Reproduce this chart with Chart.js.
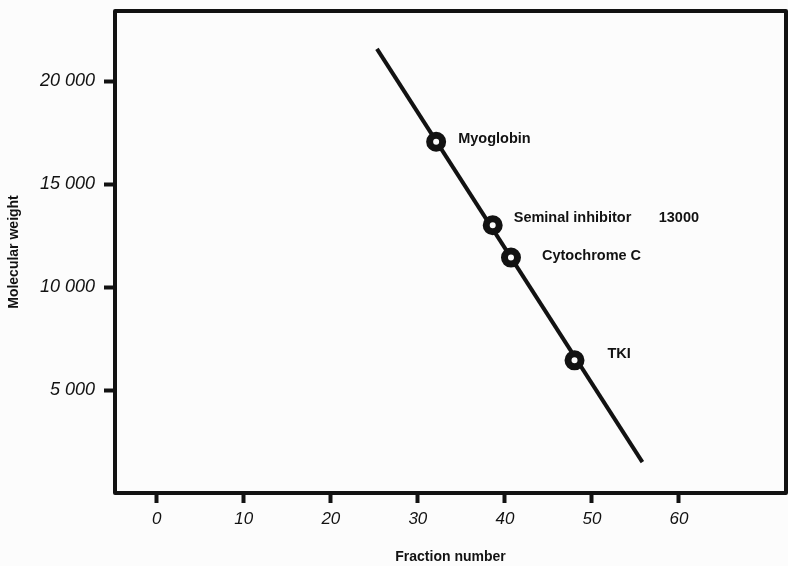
<!DOCTYPE html>
<html lang="en">
<head>
  <meta charset="UTF-8" />
  <title>Molecular weight vs fraction number</title>
  <script src="https://cdn.jsdelivr.net/npm/chart.js"></script>
  <style>
    html, body { margin: 0; padding: 0; background: #fcfcfc; }
    canvas { display: block; }
  </style>
</head>
<body>
  <canvas id="mwChart" width="788" height="566"></canvas>

  <script>
    // calibration proteins: elution fraction and molecular weight
    const proteins = ['Myoglobin', 'Seminal inhibitor', 'Cytochrome C', 'TKI'];
    const fractions = [32.1, 38.6, 40.7, 48.0];
    const weights = [17050, 13000, 11430, 6440];

    // fitted calibration line, end points
    const lineFractions = [25.3, 55.8];
    const lineWeights = [21560, 1500];

    const xTicks = [0, 10, 20, 30, 40, 50, 60];
    const yTicks = [5000, 10000, 15000, 20000];

    // which protein also gets its weight written next to the name
    const showWeight = [false, true, false, false];

    const ink = '#121212';
    const sans = '"Liberation Sans", Arial, sans-serif';

    // text placement next to each circle
    const labelDx = [22, 21, 31, 33];
    const labelDy = [-3, -7, -2, -6];

    const frameAndLabels = {
      id: 'frameAndLabels',
      afterDatasetsDraw(chart) {
        const { ctx, chartArea: a } = chart;
        ctx.save();
        ctx.strokeStyle = ink;
        ctx.lineWidth = 4;
        ctx.lineJoin = 'round';
        ctx.strokeRect(a.left, a.top, a.right - a.left, a.bottom - a.top);

        const pts = chart.getDatasetMeta(1).data;
        ctx.fillStyle = ink;
        ctx.font = 'bold 14.5px ' + sans;
        ctx.textBaseline = 'middle';
        ctx.textAlign = 'left';
        pts.forEach((p, i) => {
          const tx = p.x + labelDx[i];
          const ty = p.y + labelDy[i];
          ctx.fillText(proteins[i], tx, ty);
          if (showWeight[i]) {
            ctx.fillText(String(weights[i]), tx + 145, ty);
          }
        });
        ctx.restore();
      }
    };

    const onlyTicks = (list) => (scale) => {
      scale.ticks = list.map(v => ({ value: v }));
    };

    // fixed axis box, no extra room for overhanging labels
    const fixBox = (w, h) => (s) => {
      if (w) s.width = w;
      if (h) s.height = h;
      s.paddingTop = s.paddingBottom = s.paddingLeft = s.paddingRight = 0;
    };

    new Chart(document.getElementById('mwChart'), {
      type: 'scatter',
      data: {
        datasets: [
          {
            label: 'calibration line',
            data: lineFractions.map((x, i) => ({ x: x, y: lineWeights[i] })),
            showLine: true,
            borderColor: ink,
            borderWidth: 4,
            pointRadius: 0,
            order: 2
          },
          {
            label: 'proteins',
            data: fractions.map((x, i) => ({ x: x, y: weights[i] })),
            showLine: false,
            pointRadius: 6.5,
            pointBorderWidth: 7,
            pointBackgroundColor: '#fcfcfc',
            pointBorderColor: ink,
            order: 1
          }
        ]
      },
      options: {
        responsive: false,
        animation: false,
        events: [],
        layout: { autoPadding: false, padding: { top: 11, right: 2, left: 0, bottom: 0 } },
        plugins: {
          legend: { display: false },
          tooltip: { enabled: false }
        },
        scales: {
          x: {
            type: 'linear',
            min: -4.8,
            max: 72.3,
            afterBuildTicks: onlyTicks(xTicks),
            afterFit: fixBox(0, 73),
            border: { display: false },
            grid: {
              drawOnChartArea: false,
              drawTicks: true,
              tickLength: 10,
              tickWidth: 4,
              tickColor: ink
            },
            ticks: {
              color: ink,
              padding: 6,
              maxRotation: 0,
              font: { family: sans, size: 17, style: 'italic' }
            },
            title: {
              display: true,
              text: 'Fraction number',
              color: ink,
              padding: { top: 0, bottom: 0 },
              font: { family: sans, size: 14, weight: 'bold' }
            }
          },
          y: {
            type: 'linear',
            min: 0,
            max: 23400,
            afterBuildTicks: onlyTicks(yTicks),
            afterFit: fixBox(115, 0),
            border: { display: false },
            grid: {
              drawOnChartArea: false,
              drawTicks: true,
              tickLength: 11,
              tickWidth: 4,
              tickColor: ink
            },
            ticks: {
              color: ink,
              padding: 9,
              font: { family: sans, size: 18, style: 'italic' },
              callback: (v) => {
                const s = String(v);
                return s.slice(0, s.length - 3) + ' ' + s.slice(-3);
              }
            },
            title: {
              display: true,
              text: 'Molecular weight',
              color: ink,
              padding: { top: 6, bottom: 0 },
              font: { family: sans, size: 14, weight: 'bold' }
            }
          }
        }
      },
      plugins: [frameAndLabels]
    });
  </script>
</body>
</html>
